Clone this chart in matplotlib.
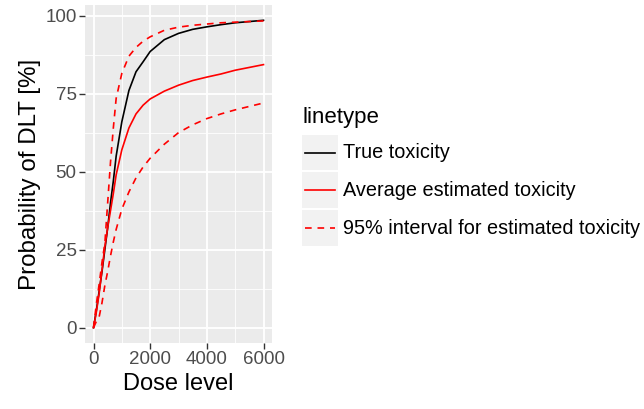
import matplotlib
matplotlib.use("Agg")
import matplotlib.pyplot as plt
from matplotlib.lines import Line2D
from matplotlib.patches import Rectangle

# 用量と毒性確率のデータ
dose = [0, 100, 200, 300, 400, 500, 600, 700, 800, 1000, 1250, 1500, 1750,
        2000, 2500, 3000, 3500, 4000, 4500, 5000, 5500, 6000]
true_tox = [0, 5.5, 11.7, 18, 25, 32, 40, 47, 55, 66, 76, 82, 85.2,
            88.5, 92.3, 94.3, 95.6, 96.4, 97.1, 97.7, 98.1, 98.5]
avg_tox = [0, 5, 11, 18.5, 26, 32, 37.5, 43, 49, 57, 64, 68.5, 71.3,
           73.3, 75.8, 77.7, 79.2, 80.3, 81.3, 82.5, 83.4, 84.3]
upper_tox = [0, 7.5, 14, 21, 27, 40, 53, 64, 73.5, 81.5, 87, 89.8, 91.8,
             93.2, 95.3, 96.3, 96.9, 97.3, 97.7, 97.9, 98.1, 98.3]
lower_tox = [0, 2, 3.5, 8, 13.5, 18, 23, 27.5, 31.5, 38, 43.5, 48, 51.5,
             54.3, 58.8, 62.5, 65, 67, 68.5, 69.8, 70.9, 72]

labels = ["True toxicity", "Average estimated toxicity",
          "95% interval for estimated toxicity"]
legend_title = "linetype"

plt.rcParams['font.family'] = ['Liberation Sans', 'DejaVu Sans']

W, H = 644, 409
fig = plt.figure(figsize=(W / 100, H / 100), dpi=100)
ax = fig.add_axes([85 / W, 1 - 343 / H, 187 / W, 338 / H])
ax.set_facecolor('#EBEBEB')
for s in ax.spines.values():
    s.set_visible(False)

# グリッド
ax.set_xticks([0, 2000, 4000, 6000])
ax.set_yticks([0, 25, 50, 75, 100])
ax.set_xticks([1000, 3000, 5000], minor=True)
ax.set_yticks([12.5, 37.5, 62.5, 87.5], minor=True)
ax.grid(which='major', color='white', lw=1.3)
ax.grid(which='minor', color='white', lw=0.6)
ax.set_axisbelow(True)
ax.tick_params(which='major', length=4, width=1, color='#333333',
               labelcolor='#4D4D4D', labelsize=13.5, pad=2)
ax.tick_params(which='minor', length=0)

lw = 1.2
dash = (0, (4, 3.5))
ax.plot(dose, true_tox, color='black', lw=lw)
ax.plot(dose, avg_tox, color='red', lw=lw)
ax.plot(dose, upper_tox, color='red', lw=lw, linestyle=dash)
ax.plot(dose, lower_tox, color='red', lw=lw, linestyle=dash)

ax.set_xlim(-300, 6300)
ax.set_ylim(-4.9, 103.4)
ax.set_xlabel("Dose level", fontsize=17, labelpad=3)
ax.set_ylabel("Probability of DLT [%]", fontsize=17.4, labelpad=3)

# 凡例（ggplot風に手で描く）
def fx(px):
    return px / W

def fy(py):
    return 1 - py / H

fig.text(fx(302), fy(117), legend_title, fontsize=16, va='center', ha='left')
rows = [(135, 170), (172, 208), (210, 246)]
styles = [('black', '-'), ('red', '-'), ('red', dash)]
for (y0, y1), (c, ls), lab in zip(rows, styles, labels):
    fig.add_artist(Rectangle((fx(302), fy(y1)), fx(36), (y1 - y0) / H,
                             transform=fig.transFigure, color='#F2F2F2', lw=0))
    ym = fy((y0 + y1) / 2)
    fig.add_artist(Line2D([fx(305), fx(335)], [ym, ym], color=c, lw=lw,
                          linestyle=ls, transform=fig.transFigure))
    fig.text(fx(343), ym, lab, fontsize=14.3, va='center', ha='left')

fig.savefig('out.png', dpi=100)
